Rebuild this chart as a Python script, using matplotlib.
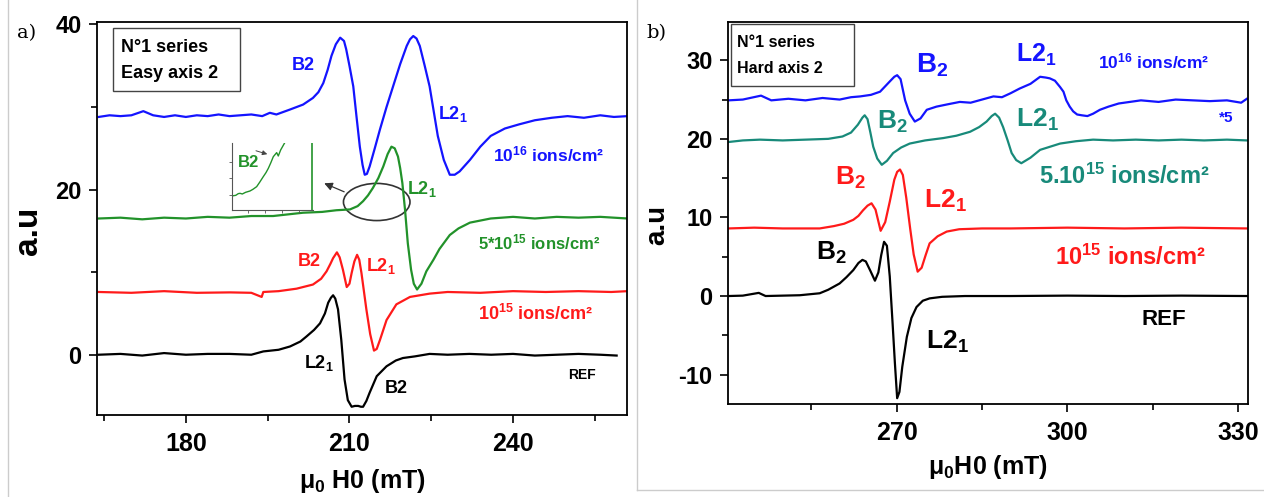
import matplotlib
matplotlib.use('Agg')
import matplotlib.pyplot as plt
from matplotlib.patches import Ellipse, Rectangle
from matplotlib.lines import Line2D

plt.rcParams['font.family'] = ['Liberation Sans', 'DejaVu Sans']
plt.rcParams['font.weight'] = 'bold'
plt.rcParams['axes.unicode_minus'] = False
plt.rcParams['mathtext.fontset'] = 'custom'
plt.rcParams['mathtext.rm'] = 'Liberation Sans:bold'
plt.rcParams['mathtext.bf'] = 'Liberation Sans:bold'
plt.rcParams['mathtext.it'] = 'Liberation Sans:bold'

BLUE = '#1414ff'
GREEN = '#22922a'
RED = '#ff1a1a'
TEAL = '#188a7a'

# ---- panel a) easy axis, field in mT, signal in a.u.
a_ref_x = [164, 168, 172, 176, 180, 184, 188, 192, 194.2, 197, 199.1, 201, 202.1, 203.5, 204.6,
           205.5, 206.1, 206.6, 207.0, 207.4, 207.9, 208.5, 209.1, 209.7, 210.4, 211.0, 211.6,
           212.1, 212.5, 213.1, 213.7, 215.0, 216.8, 218.5, 219.8, 222, 224.7, 228, 232, 236,
           240, 244, 248, 252, 256, 259]
a_ref_y = [0, 0.1, -0.1, 0.2, 0, 0.1, 0.1, 0, 0.4, 0.6, 1.0, 1.6, 2.2, 3.0, 3.8,
           5.0, 6.3, 6.9, 7.2, 6.8, 5.5, 1.8, -3.0, -5.5, -6.3, -6.2, -6.2,
           -6.3, -6.3, -5.6, -4.6, -2.6, -1.4, -0.7, -0.4, -0.2, 0.1, 0, 0.1, 0,
           0.1, -0.1, 0, 0.1, 0, -0.1]

a_1e15_x = [164, 170, 176, 182, 188.1, 192, 193.9, 194.2, 197, 200.3, 203.3, 204.8, 205.8, 206.5,
            207.0, 207.7, 208.2, 208.8, 209.5, 210.0, 210.4, 210.9, 211.4, 211.8, 212.2, 213.1,
            213.8, 214.5, 215.0, 215.6, 216.8, 218.6, 221.1, 224.7, 228, 234, 240, 246, 252,
            258, 261]
a_1e15_y = [7.6, 7.5, 7.7, 7.5, 7.55, 7.5, 7.0, 7.6, 7.7, 8.0, 8.5, 9.2, 10.1, 11.0,
            11.7, 12.4, 11.8, 10.3, 8.2, 8.6, 9.9, 11.3, 12.1, 11.5, 9.9, 5.5,
            2.5, 0.5, 0.7, 1.8, 4.2, 6.1, 7.0, 7.4, 7.6, 7.5, 7.7, 7.6, 7.7,
            7.6, 7.7]

a_5e15_x = [164, 168, 172, 176, 180, 184, 188, 192, 196, 201.5, 205, 207.6, 210.1, 211.5, 212.5,
            213.4, 214.3, 215.3, 216.2, 217.0, 217.7, 218.3, 218.9, 219.3, 219.7, 220.2, 220.7,
            221.3, 221.8, 222.4, 223.2, 224.1, 225.4, 226.5, 228.4, 230, 232.1, 235.9, 240, 244,
            248, 252, 256, 261]
a_5e15_y = [16.5, 16.6, 16.4, 16.6, 16.5, 16.7, 16.6, 16.8, 16.8, 17.2, 17.3, 17.5, 17.6, 18.0, 18.6,
            19.3, 20.2, 21.4, 22.8, 24.3, 25.2, 25.0, 24.0, 22.6, 20.8, 17.5, 13.5,
            10.3, 8.6, 7.9, 8.6, 10.1, 11.5, 12.8, 14.5, 15.3, 16.0, 16.5, 16.7, 16.5,
            16.7, 16.6, 16.7, 16.5]

a_1e16_x = [164, 166, 168, 170, 172.2, 174, 176, 178, 180, 182, 184, 186, 188, 190, 192, 194,
            195.4, 196.6, 199.1, 201.5, 203.3, 204.3, 205.2, 206.0, 206.7, 207.5, 208.3, 209.0,
            209.4, 210.0, 210.7, 211.3, 211.9, 212.4, 212.8, 213.2, 213.7, 214.6, 215.6, 216.8,
            218.0, 219.3, 220.5, 221.1, 221.7, 222.3, 222.9, 223.8, 224.7, 225.5, 226.2, 227.3,
            228.4, 229.3, 230.2, 232.1, 234, 235.9, 238.5, 241.1, 244, 247.1, 250, 253, 256,
            258.5, 261]
a_1e16_y = [28.8, 29.0, 28.9, 29.0, 29.5, 29.0, 28.8, 29.0, 28.8, 29.0, 28.9, 29.1, 28.9, 29.0, 29.1, 28.9,
            29.3, 29.1, 29.7, 30.3, 31.1, 31.8, 32.9, 34.5, 36.2, 37.6, 38.4, 38.0,
            37.0, 35.0, 32.5, 28.8, 25.2, 23.0, 21.8, 21.9, 22.8, 24.9, 27.3, 30.0,
            32.5, 35.2, 37.4, 38.2, 38.6, 38.3, 37.4, 35.0, 32.5, 29.3, 26.5, 23.6,
            21.8, 21.8, 22.2, 23.6, 25.2, 26.5, 27.4, 27.9, 28.4, 28.7, 28.9, 28.7, 29.0,
            28.8, 28.9]

# zoom inset of the 5*10^15 spectrum (inset units 0-100)
inset_x = [0, 5, 8, 10.2, 13, 17, 22.4, 26, 30.6, 34.5, 38.7, 42, 44.9, 48, 51, 55.1, 57.1, 60, 65.3]
inset_y = [21, 22, 24.5, 25, 24, 26.5, 28.5, 31, 35, 42, 50, 56, 62.5, 71, 80, 86, 81, 90, 101.5]
inset_jump_x = [98, 98]
inset_jump_y = [0, 100]

# ---- panel b) hard axis
b_ref_x = [240.5, 243, 245.8, 247, 250, 253, 256.5, 258, 260.0, 261.2, 262.4, 263.3, 264.0, 264.6,
           265.4, 266.2, 266.8, 267.3, 267.8, 268.3, 268.8, 269.3, 269.7, 270.1, 270.5, 271.0,
           271.8, 272.6, 273.5, 274.6, 275.8, 278, 282, 290, 300, 310, 320, 331.5]
b_ref_y = [0, 0.05, 0.4, 0, 0.05, 0.1, 0.35, 0.8, 1.6, 2.4, 3.3, 4.2, 4.6, 4.4,
           3.2, 1.95, 3.0, 5.2, 6.9, 6.4, 2.5, -3.5, -8.5, -13.0, -12.2, -9.0,
           -5.2, -2.8, -1.4, -0.6, -0.3, -0.1, 0, 0, 0.05, 0, 0.05, 0]

b_1e15_x = [240.5, 245, 250, 254, 256.5, 259, 260.8, 262.4, 263.3, 264.1, 264.9, 265.6, 266.3,
            267.2, 268.0, 268.8, 269.6, 270.1, 270.6, 271.1, 271.7, 272.4, 273.0, 273.7, 274.4,
            275.1, 275.8, 277.2, 278.8, 281, 285, 290, 300, 310, 320, 331.5]
b_1e15_y = [8.6, 8.7, 8.6, 8.6, 8.6, 8.9, 9.2, 9.7, 10.2, 10.9, 11.5, 11.8, 11.0,
            8.3, 9.4, 12.0, 14.8, 15.8, 16.1, 15.4, 12.5, 8.5, 5.3, 3.1, 3.6,
            5.2, 6.7, 7.6, 8.2, 8.5, 8.6, 8.6, 8.7, 8.6, 8.7, 8.6]

b_5e15_x = [240.5, 243, 246, 250, 254, 258, 260.5, 262.0, 263.2, 264.0, 264.4, 264.9, 265.4,
            265.9, 266.6, 267.4, 268.3, 269.4, 270.8, 272.3, 275, 278.2, 280.5, 282.9, 284.5,
            285.8, 286.7, 287.3, 288.0, 288.7, 289.5, 290.2, 291.0, 291.9, 293.5, 295.2, 298.7,
            301.5, 304.5, 308, 312, 316, 320, 324, 328, 331.5]
b_5e15_y = [19.6, 19.8, 19.9, 19.8, 19.9, 20.0, 20.3, 20.8, 21.8, 22.7, 23.0, 22.5, 20.8,
            19.0, 17.5, 16.7, 17.2, 18.2, 18.9, 19.4, 19.8, 20.1, 20.4, 20.9, 21.5,
            22.2, 22.9, 23.2, 22.7, 21.5, 19.8, 18.2, 17.3, 16.9, 17.6, 18.6, 19.4,
            19.7, 19.9, 19.8, 19.9, 19.8, 19.9, 19.8, 19.9, 19.8]

b_1e16_x = [240.5, 243, 246.2, 248, 251, 254, 257, 260, 262, 263.6, 265.5, 267.1, 268.8, 269.6,
            270.1, 270.7, 271.5, 272.3, 273.2, 274.2, 275.3, 277, 279, 281.1, 283, 285, 287.0,
            288.5, 290, 291.6, 293.5, 295.2, 296.2, 296.9, 297.8, 298.7, 299.3, 299.8, 300.4,
            301.0, 301.7, 302.5, 303.5, 304.5, 305.7, 307.2, 309, 312.9, 316, 319, 322, 325,
            328, 330.5, 331.5]
b_1e16_y = [24.9, 25.0, 25.5, 24.9, 25.1, 24.9, 25.2, 25.0, 25.3, 25.4, 25.6, 26.0, 27.3, 27.9,
            28.1, 27.6, 24.9, 23.2, 22.2, 22.6, 23.7, 24.1, 24.4, 24.7, 24.6, 25.0, 25.4,
            25.3, 25.8, 26.4, 27.0, 27.9, 27.8, 27.7, 27.4, 26.6, 26.0, 24.9, 24.1,
            23.5, 23.1, 23.0, 22.9, 23.2, 23.7, 24.1, 24.5, 24.9, 24.7, 25.0, 24.9, 24.8,
            24.9, 24.6, 25.1]

W, H = 1264, 497
fig = plt.figure(figsize=(W / 100, H / 100), dpi=100)


def px_axes(left, top, right, bottom):
    return fig.add_axes([left / W, 1 - bottom / H, (right - left) / W, (bottom - top) / H])


def style_axes(ax):
    for s in ax.spines.values():
        s.set_linewidth(1.3)
    ax.tick_params(which='both', direction='out', top=False, right=False, width=1.2)
    ax.tick_params(which='major', length=6)
    ax.tick_params(which='minor', length=4)
    ax.tick_params(axis='x', pad=6, labelsize=18)
    ax.tick_params(axis='y', pad=5, labelsize=17)
    for lab in ax.get_xticklabels() + ax.get_yticklabels():
        lab.set_fontweight('bold')


LW = 1.6

# ---------------- panel a
axa = px_axes(97, 22, 627, 415)
axa.plot(a_ref_x, a_ref_y, color='black', lw=LW)
axa.plot(a_1e15_x, a_1e15_y, color=RED, lw=LW)
axa.plot(a_5e15_x, a_5e15_y, color=GREEN, lw=LW)
axa.plot(a_1e16_x, a_1e16_y, color=BLUE, lw=LW)
axa.set_xlim(163.7, 260.9)
axa.set_ylim(-7.3, 40.3)
axa.set_xticks([180, 210, 240])
axa.set_xticks([165, 195, 225, 255], minor=True)
axa.set_yticks([0, 20, 40])
axa.set_yticks([10, 30], minor=True)
style_axes(axa)

axa.add_patch(Rectangle((0.0296, 0.825), 0.2404, 0.159, transform=axa.transAxes,
                        fill=False, ec='#444444', lw=1.0))
axa.text(0.045, 0.934, 'N°1 series', transform=axa.transAxes, fontsize=13, va='center')
axa.text(0.045, 0.868, 'Easy axis 2', transform=axa.transAxes, fontsize=13, va='center')

axa.text(199.4, 34.5, 'B2', color=BLUE, fontsize=13)
axa.text(226.3, 28.5, 'L2$_1$', color=BLUE, fontsize=13)
axa.text(236.3, 23.4, '10$^{16}$ ions/cm²', color=BLUE, fontsize=12.5)
axa.text(220.5, 19.5, 'L2$_1$', color=GREEN, fontsize=13)
axa.text(233.6, 12.7, '5*10$^{15}$ ions/cm²', color=GREEN, fontsize=12)
axa.text(200.6, 10.8, 'B2', color=RED, fontsize=13)
axa.text(213.1, 10.2, 'L2$_1$', color=RED, fontsize=13)
axa.text(233.6, 4.2, '10$^{15}$ ions/cm²', color=RED, fontsize=13)
axa.text(201.6, -1.6, 'L2$_1$', color='black', fontsize=13)
axa.text(216.5, -4.6, 'B2', color='black', fontsize=13)
axa.text(250.1, -3.0, 'REF', color='black', fontsize=10)

axa.add_patch(Ellipse((215.0, 18.5), 12.2, 4.5, fill=False, ec='#333333', lw=1.2))
axa.annotate('', xy=(204.9, 20.9), xytext=(209.5, 19.6),
             arrowprops=dict(arrowstyle='-|>', color='#333333', lw=0.9, mutation_scale=12))

# inset
axi = px_axes(231.7, 143.3, 313.3, 210)
axi.patch.set_alpha(0)
axi.plot(inset_x, inset_y, color=GREEN, lw=1.0)
axi.plot(inset_jump_x, inset_jump_y, color=GREEN, lw=1.2)
axi.set_xlim(0, 100)
axi.set_ylim(0, 100)
axi.spines['top'].set_visible(False)
axi.spines['right'].set_visible(False)
for s in ('left', 'bottom'):
    axi.spines[s].set_color('#555555')
    axi.spines[s].set_linewidth(0.8)
axi.set_xticks([20, 41, 62, 82])
axi.set_yticks([22, 48, 72])
axi.tick_params(length=2, width=0.6, color='#555555', labelbottom=False, labelleft=False)
axi.text(8, 64, 'B2', color=GREEN, fontsize=12)
axi.annotate('', xy=(46.9, 82.5), xytext=(26.5, 90),
             arrowprops=dict(arrowstyle='-|>', color='#444444', lw=0.7, mutation_scale=7))

# ---------------- panel b
axb = px_axes(728, 22, 1248, 404)
axb.plot(b_ref_x, b_ref_y, color='black', lw=LW)
axb.plot(b_1e15_x, b_1e15_y, color=RED, lw=LW)
axb.plot(b_5e15_x, b_5e15_y, color=TEAL, lw=LW)
axb.plot(b_1e16_x, b_1e16_y, color=BLUE, lw=LW)
axb.set_xlim(240.4, 331.7)
axb.set_ylim(-13.74, 34.87)
axb.set_xticks([270, 300, 330])
axb.set_xticks([255, 285, 315], minor=True)
axb.set_yticks([-10, 0, 10, 20, 30])
axb.set_yticks([-5, 5, 15, 25], minor=True)
style_axes(axb)

axb.add_patch(Rectangle((0.0065, 0.832), 0.236, 0.163, transform=axb.transAxes,
                        fill=False, ec='#444444', lw=1.0))
axb.text(0.0173, 0.946, 'N°1 series', transform=axb.transAxes, fontsize=11.5, va='center')
axb.text(0.0173, 0.879, 'Hard axis 2', transform=axb.transAxes, fontsize=11.5, va='center')

axb.text(273.4, 28.5, 'B$_2$', color=BLUE, fontsize=20)
axb.text(291.0, 29.8, 'L2$_1$', color=BLUE, fontsize=18)
axb.text(305.4, 29.0, '10$^{16}$ ions/cm²', color=BLUE, fontsize=12.5)
axb.text(326.6, 22.2, '*5', color=BLUE, fontsize=11)
axb.text(266.6, 21.3, 'B$_2$', color=TEAL, fontsize=19)
axb.text(291.0, 21.5, 'L2$_1$', color=TEAL, fontsize=19)
axb.text(295.0, 14.3, '5.10$^{15}$ ions/cm²', color=TEAL, fontsize=17)
axb.text(259.1, 14.1, 'B$_2$', color=RED, fontsize=19)
axb.text(274.9, 11.2, 'L2$_1$', color=RED, fontsize=19)
axb.text(297.9, 3.9, '10$^{15}$ ions/cm²', color=RED, fontsize=17)
axb.text(255.8, 4.6, 'B$_2$', color='black', fontsize=19)
axb.text(275.2, -6.7, 'L2$_1$', color='black', fontsize=19)
axb.text(313.0, -3.7, 'REF', color='black', fontsize=16)

# ---------------- figure-level texts and frames
fig.text(27 / W, 1 - 33 / H, 'a)', family='DejaVu Serif', fontweight='normal', fontsize=14,
         ha='center', va='center')
fig.text(656 / W, 1 - 33 / H, 'b)', family='DejaVu Serif', fontweight='normal', fontsize=14,
         ha='center', va='center')
fig.text(29 / W, 1 - 231 / H, 'a.u', rotation=90, fontsize=24, ha='center', va='center')
fig.text(657 / W, 1 - 225 / H, 'a.u', rotation=90, fontsize=20, ha='center', va='center')
fig.text(362 / W, 1 - 481 / H, 'μ$_0$ H0 (mT)', fontsize=18, ha='center', va='center')
fig.text(988 / W, 1 - 467 / H, 'μ$_0$H0 (mT)', fontsize=18, ha='center', va='center')

for xs, ys in [([8, 8], [0, 497]), ([637, 637], [0, 490]), ([637, 1264], [490, 490])]:
    fig.add_artist(Line2D([x / W for x in xs], [1 - y / H for y in ys],
                          color='#cccccc', lw=1.0))

fig.savefig('out.png', dpi=100)
